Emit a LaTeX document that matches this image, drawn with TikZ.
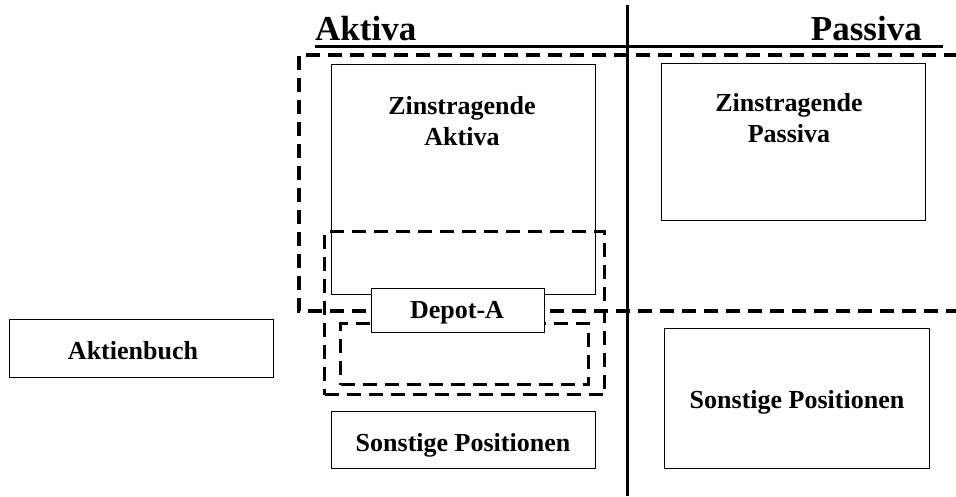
\documentclass[tikz,border=0pt]{standalone}
\usepackage{fontspec}
\setmainfont{Liberation Serif}
\begin{document}
\begin{tikzpicture}[x=1pt,y=-1pt,
  box/.style={draw, line width=1.2pt, inner sep=0pt, anchor=north west},
  grp/.style={draw, line width=3.4pt, dash pattern=on 14pt off 8pt},
  heavy/.style={line width=3pt},
  lbl/.style={font=\bfseries\fontsize{26}{31}\selectfont, anchor=base, inner sep=0pt, align=center},
  head/.style={font=\bfseries\fontsize{35}{40}\selectfont, inner sep=0pt}]
\useasboundingbox (0,0) rectangle (956,497);
% header
\node[head, anchor=base west] (aktivahead) at (315,41) {Aktiva};
\node[head, anchor=base east] (passivahead) at (922,41) {Passiva};
\coordinate (ulL) at (315,47);
\coordinate (ulR) at (943,47);
\coordinate (vT) at (627,5);
\coordinate (vB) at (627,496);
% boxes
\node[box, minimum width=264pt, minimum height=230pt] (za) at (331,64) {};
\node[box, minimum width=264pt, minimum height=157pt] (zp) at (661,63) {};
\node[box, minimum width=264pt, minimum height=58pt] (ab) at (9,319) {};
\node[box, minimum width=264pt, minimum height=57pt] (spl) at (331,411) {};
\node[box, minimum width=265pt, minimum height=140pt] (spr) at (664,328) {};
% dashed groups
\coordinate (gTR) at (958,55);
\coordinate (gTL) at (299,55);
\coordinate (gBL) at (299,311);
\coordinate (gBR) at (958,311);
\draw[grp] (gTR) -- (gTL) -- (gBL) -- (gBR);
\node[grp, inner sep=0pt, minimum width=280pt, minimum height=163pt, anchor=north west] (g2) at (323,230) {};
\node[grp, inner sep=0pt, minimum width=248pt, minimum height=61pt, anchor=north west] (g3) at (339,322) {};
% depot
\node[box, fill=white, minimum width=173pt, minimum height=44pt] (depot) at (371,288) {};
% main lines
\draw[heavy] (ulL) -- (ulR);
\draw[heavy] (vT) -- (vB);
% labels
\node[lbl] (zaT) at (462,146) {Zinstragende\\Aktiva};
\node[lbl] (zpT) at (789,143) {Zinstragende\\Passiva};
\node[lbl] (abT) at (133,359) {Aktienbuch};
\node[lbl] (depT) at (457,318) {Depot-A};
\node[lbl] (splT) at (463,451) {Sonstige Positionen};
\node[lbl] (sprT) at (797,408) {Sonstige Positionen};
\end{tikzpicture}
\end{document}
